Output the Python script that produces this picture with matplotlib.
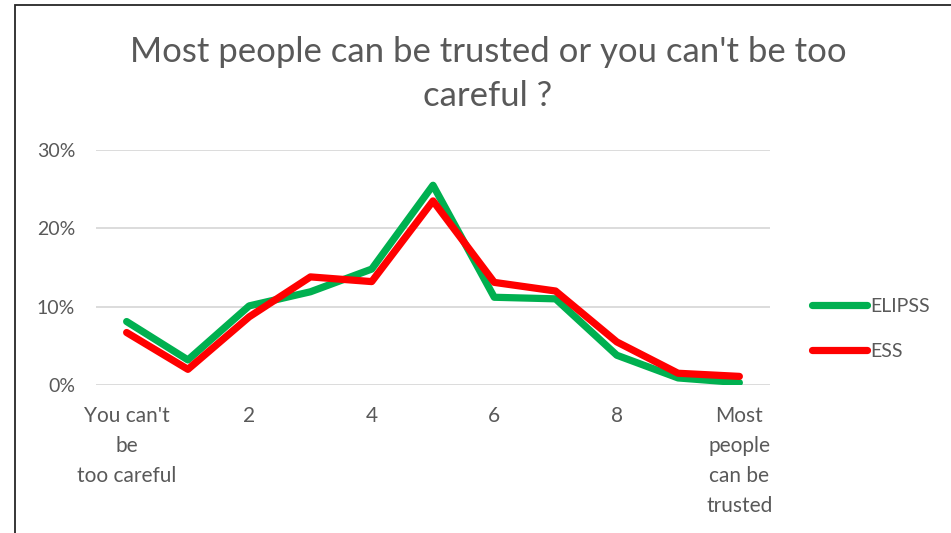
import matplotlib.pyplot as plt
from matplotlib.patches import Rectangle
from matplotlib.ticker import PercentFormatter

plt.rcParams['font.family'] = ['Lato', 'DejaVu Sans']

# Datos
categorias = list(range(11))
elipss = [8.1, 3.2, 10.1, 11.9, 14.8, 25.5, 11.2, 11.0, 3.8, 0.9, 0.3]
ess = [6.7, 2.0, 8.7, 13.8, 13.2, 23.5, 13.1, 12.0, 5.5, 1.5, 1.1]
pos_ticks = [0, 2, 4, 6, 8, 10]
etiquetas_x = ["You can't\nbe\ntoo careful", "2", "4", "6", "8",
               "Most\npeople\ncan be\ntrusted"]
titulo = "Most people can be trusted or you can't be too\ncareful ?"

GRIS = "#595959"

fig = plt.figure(figsize=(9.51, 5.33), dpi=100)
ax = fig.add_axes([96 / 951, 1 - 385 / 533, 674 / 951, 235 / 533])

ax.plot(categorias, [v / 100 for v in elipss], color="#00B050", lw=5.2,
        solid_capstyle="round", label="ELIPSS")
ax.plot(categorias, [v / 100 for v in ess], color="#FF0000", lw=5.2,
        solid_capstyle="round", label="ESS")

ax.set_xlim(-0.5, 10.5)
ax.set_ylim(0, 0.30)
ax.set_yticks([0, 0.10, 0.20, 0.30])
ax.yaxis.set_major_formatter(PercentFormatter(1.0, decimals=0))
ax.set_xticks(pos_ticks)
ax.set_xticklabels(etiquetas_x, linespacing=1.62)
ax.tick_params(length=0, colors=GRIS, labelsize=14)
ax.tick_params(axis="y", pad=15)
ax.tick_params(axis="x", pad=15, labelsize=15)
ax.grid(axis="y", color="#D9D9D9", lw=1.3)
ax.set_axisbelow(True)
for s in ax.spines.values():
    s.set_visible(False)

fig.text(488 / 951, 1 - 74 / 533, titulo, ha="center", va="center",
         fontsize=25, color=GRIS, linespacing=1.5)

leg = ax.legend(loc="center left", bbox_to_anchor=(1.037, 0.24), frameon=False,
                fontsize=14, handlelength=2.8, handletextpad=0.15,
                labelspacing=1.45, labelcolor=GRIS)

# marco del grafico
fig.patches.append(Rectangle((15 / 951, -0.1), 1.2, 1 - 5 / 533 + 0.1,
                             transform=fig.transFigure, fill=False,
                             edgecolor="#262626", lw=1.3))

fig.savefig("out.png", dpi=100)
